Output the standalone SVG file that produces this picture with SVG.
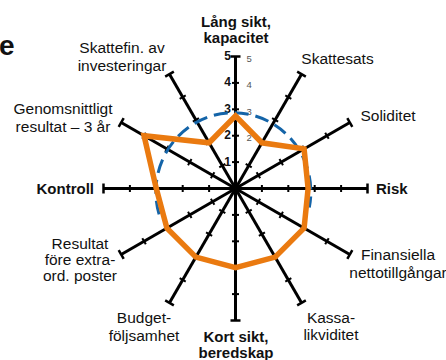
<svg xmlns="http://www.w3.org/2000/svg" xmlns:xlink="http://www.w3.org/1999/xlink" width="446" height="360" viewBox="0 0 446 360">
<style>
.lbl{font-family:"Liberation Sans",Arial,sans-serif;font-size:15.5px;fill:#111;text-anchor:middle}
.b{font-weight:bold;font-size:15px}
.num{font-family:"Liberation Sans",Arial,sans-serif;font-size:12px;font-weight:bold;fill:#111;text-anchor:end}
.sm{font-family:"Liberation Sans",Arial,sans-serif;font-size:9.5px;fill:#555}
.ax{stroke:#000;stroke-width:3;fill:none}
.tk{stroke:#000;stroke-width:2}
</style>
<defs>
<g id="axis">
<line class="ax" x1="0" y1="0" x2="132" y2="0"/>
<line class="tk" x1="26.4" y1="-3.5" x2="26.4" y2="3.5"/>
<line class="tk" x1="52.8" y1="-3.5" x2="52.8" y2="3.5"/>
<line class="tk" x1="79.2" y1="-3.5" x2="79.2" y2="3.5"/>
<line class="tk" x1="105.6" y1="-3.5" x2="105.6" y2="3.5"/>
<line class="tk" x1="132" y1="-5" x2="132" y2="5" style="stroke-width:2.5"/>
</g>
</defs>
<rect width="446" height="360" fill="#fff"/>
<text x="-1" y="55" style="font-family:'Liberation Sans',Arial,sans-serif;font-weight:bold;font-size:28px;fill:#111">e</text>
<g id="connectors">
<g transform="translate(235.5,188.5)">
<use xlink:href="#axis" transform="rotate(0)"/>
<use xlink:href="#axis" transform="rotate(-30)"/>
<use xlink:href="#axis" transform="rotate(-60)"/>
<use xlink:href="#axis" transform="rotate(-90)"/>
<use xlink:href="#axis" transform="rotate(-120)"/>
<use xlink:href="#axis" transform="rotate(-150)"/>
<use xlink:href="#axis" transform="rotate(180)"/>
<use xlink:href="#axis" transform="rotate(150)"/>
<use xlink:href="#axis" transform="rotate(120)"/>
<use xlink:href="#axis" transform="rotate(90)"/>
<use xlink:href="#axis" transform="rotate(60)"/>
<use xlink:href="#axis" transform="rotate(30)"/>
</g>
</g>
<g id="scale">
<text class="num" x="231" y="60">5</text>
<text class="num" x="231" y="86.4">4</text>
<text class="num" x="231" y="112.8">3</text>
<text class="num" x="231" y="139.2">2</text>
<text class="num" x="231" y="165.6">1</text>
<text class="sm" x="246.5" y="62">5</text>
<text class="sm" x="246.5" y="88.4">4</text>
<text class="sm" x="246.5" y="114.8">3</text>
<text class="sm" x="246.5" y="141.2">2</text>
</g>
<g id="reference-circle">
<path d="M 159.1,214.4 A 77.5,79 0 1 1 309.3,207.5" fill="none" stroke="#1464a8" stroke-width="3" stroke-dasharray="14 7"/>
</g>
<g id="profile">
<polygon points="235.5,115.9 261.9,142.8 304.1,148.9 308.1,188.5 304.1,228.1 275.1,257.1 235.5,267.7 195.9,257.1 166.9,228.1 156.3,188.5 144.05,135.7 209.1,142.8" fill="none" stroke="#ea7a10" stroke-width="5.5" stroke-linejoin="miter"/>
</g>
<g id="n-lang"><text class="lbl b" x="236" y="27">Lång sikt,</text><text class="lbl b" x="236" y="43">kapacitet</text></g>
<g id="n-skattefin"><text class="lbl" x="122" y="53">Skattefin. av</text><text class="lbl" x="122" y="71">investeringar</text></g>
<g id="n-skattesats"><text class="lbl" x="337.5" y="64">Skattesats</text></g>
<g id="n-soliditet"><text class="lbl" x="388" y="121">Soliditet</text></g>
<g id="n-genomsnitt"><text class="lbl" x="63" y="114">Genomsnittligt</text><text class="lbl" x="63" y="132">resultat – 3 år</text></g>
<g id="n-kontroll"><text class="lbl b" x="94" y="194" style="text-anchor:end">Kontroll</text></g>
<g id="n-risk"><text class="lbl b" x="376" y="194" style="text-anchor:start">Risk</text></g>
<g id="n-finansiella"><text class="lbl" x="398" y="260">Finansiella</text><text class="lbl" x="398" y="278">nettotillgångar</text></g>
<g id="n-resultat"><text class="lbl" x="80" y="249">Resultat</text><text class="lbl" x="80" y="265">före extra-</text><text class="lbl" x="80" y="281">ord. poster</text></g>
<g id="n-budget"><text class="lbl" x="144" y="323">Budget-</text><text class="lbl" x="144" y="341">följsamhet</text></g>
<g id="n-kort"><text class="lbl b" x="236" y="342">Kort sikt,</text><text class="lbl b" x="236" y="358">beredskap</text></g>
<g id="n-kassa"><text class="lbl" x="331" y="323">Kassa-</text><text class="lbl" x="331" y="340">likviditet</text></g>
</svg>
